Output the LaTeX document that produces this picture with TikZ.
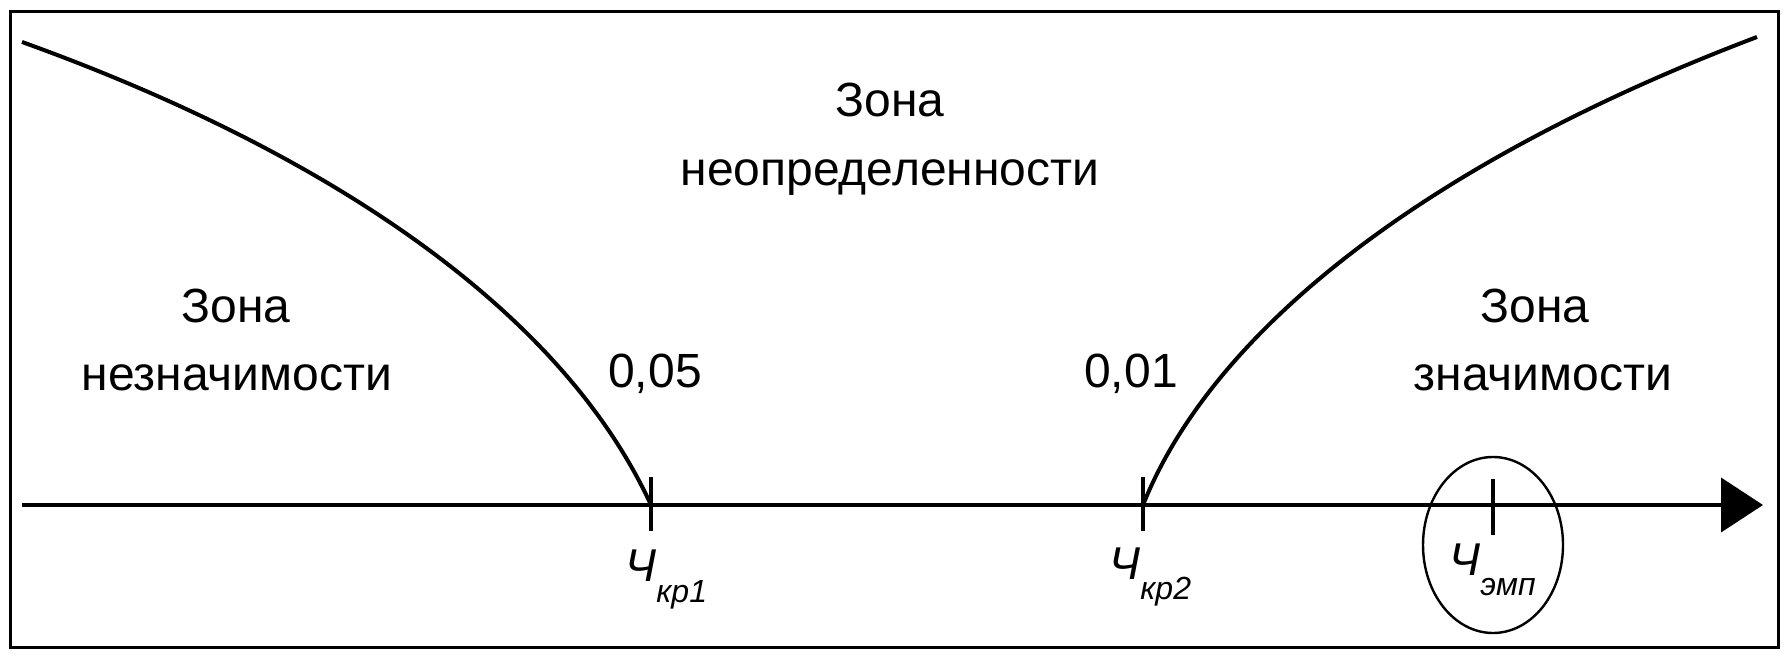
\documentclass[tikz,border=0pt]{standalone}
\usepackage{fontspec}
\setmainfont{Liberation Sans}
\usetikzlibrary{shapes.geometric,arrows.meta}
\tikzset{
  zone/.style={anchor=base,font=\fontsize{24}{28}\selectfont,inner sep=0pt},
  chlabel/.style={anchor=base west,font=\fontsize{23}{26}\selectfont\itshape,inner sep=0pt},
  curve/.style={line width=2pt},
  axisline/.style={line width=2pt,-{Triangle[length=21pt,width=27pt]}},
  tick/.style={line width=1.6pt},
  frame/.style={line width=1.5pt},
  ring/.style={draw,ellipse,line width=1.2pt,minimum width=70pt,minimum height=88pt,inner sep=0pt}
}
\newcommand{\subl}[1]{\raisebox{-10pt}{\fontsize{16}{18}\selectfont #1}}
\begin{document}
\begin{tikzpicture}[x=0.5pt,y=-0.5pt]
\useasboundingbox (0,0) rectangle (1787,656);
\draw[frame] (10,12) rectangle (1778,648);
% axis points
\coordinate (a0) at (22,505);
\coordinate (a1) at (1763,505);
\coordinate (k1) at (651,505);
\coordinate (k2) at (1143,505);
\coordinate (e) at (1493,505);
\coordinate (c1) at (22,42);
\coordinate (c2) at (1757,37);
% axis
\draw[axisline] (a0) -- (a1);
% curves
\draw[curve] (c1) .. controls (322,150) and (560,307) .. (k1);
\draw[curve] (k2) .. controls (1213,330) and (1427,162) .. (c2);
% ticks
\draw[tick] ([yshift=-13pt]k1) -- ([yshift=14pt]k1);
\draw[tick] ([yshift=-13pt]k2) -- ([yshift=14pt]k2);
\draw[tick] ([yshift=-15pt]e) -- ([yshift=13pt]e);
% ellipse
\node[ring] (ring) at (1493,545) {};
% texts
\node[zone] (t1) at (890,117) {Зона};
\node[zone] (t2) at (890,186) {неопределенности};
\node[zone] (l1) at (236,323) {Зона};
\node[zone] (l2) at (237,391) {незначимости};
\node[zone] (r1) at (1535,323) {Зона};
\node[zone] (r2) at (1543,391) {значимости};
\node[zone] (p1) at (655,388) {0,05};
\node[zone] (p2) at (1131,388) {0,01};
\node[chlabel] (x1) at (625,582) {Ч\subl{кр1}};
\node[chlabel] (x2) at (1109,580) {Ч\subl{кр2}};
\node[chlabel] (x3) at (1449,576) {Ч\subl{эмп}};
\end{tikzpicture}
\end{document}
